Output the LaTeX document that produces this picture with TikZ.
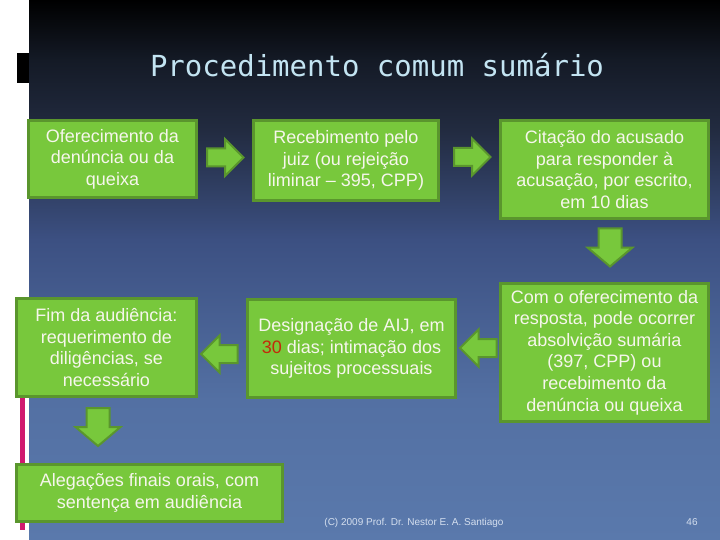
\documentclass[tikz,border=0pt]{standalone}
\usepackage{fontspec}
\setmainfont{Liberation Sans}
\newfontfamily\titlefont{DejaVu Sans Mono}
\definecolor{bgA}{HTML}{5A79AC}
\definecolor{bgB}{HTML}{5370A3}
\definecolor{bgC}{HTML}{3C5082}
\definecolor{bgD}{HTML}{222B40}
\definecolor{bgE}{HTML}{141A26}
\definecolor{boxfill}{HTML}{78C83C}
\definecolor{boxline}{HTML}{5A962D}
\definecolor{boxtext}{HTML}{F6F6EC}
\definecolor{redthirty}{HTML}{C22A0A}
\definecolor{titlecol}{HTML}{C3E4F2}
\definecolor{footcol}{HTML}{D4DEEE}
\definecolor{magbar}{HTML}{D0196F}
\pgfdeclareverticalshading{bgshade}{100bp}{color(0bp)=(bgA); color(25bp)=(bgA); color(38bp)=(bgB); color(52.8bp)=(bgC); color(62.96bp)=(bgD); color(69.44bp)=(bgE); color(75bp)=(black); color(100bp)=(black)}
\begin{document}
\begin{tikzpicture}[x=1pt,y=-1pt,
  stepbox/.style={draw=boxline, line width=3pt, fill=boxfill, text=boxtext, inner sep=0pt,
    align=center, font=\fontsize{18}{21.6}\selectfont},
  arrowstyle/.style={draw=boxline, line width=2pt, fill=boxfill, line join=miter},
  pics/harrow/.style={code={\draw[arrowstyle] (-18,-9) -- (0,-9) -- (0,-18.5) -- (18.5,0) -- (0,18.5) -- (0,9) -- (-18,9) -- cycle;}},
  pics/varrow/.style={code={\draw[arrowstyle] (-11.5,-19) -- (11.5,-19) -- (11.5,0) -- (22.5,0) -- (0,19) -- (-22.5,0) -- (-11.5,0) -- cycle;}},
  foot/.style={text=footcol, font=\fontsize{10}{11}\selectfont, inner sep=0pt}
]
\useasboundingbox (0,0) rectangle (720,540);
\fill[white] (0,0) rectangle (720,540);
\shade[shading=bgshade] (29,0) rectangle (720,540);
\fill[black] (17,53) rectangle (29,83);
\fill[magbar] (20,300) rectangle (25,530);

\node[text=titlecol, font=\titlefont\fontsize{29}{32}\selectfont, inner sep=0pt] (title) at (377,65) {Procedimento comum sumário};

\node[stepbox, minimum width=168pt, minimum height=77pt] (b1) at (112.5,159) {Oferecimento da\\denúncia ou da\\queixa};
\node[stepbox, minimum width=185pt, minimum height=80pt] (b2) at (346,160.5) {Recebimento pelo\\juiz (ou rejeição\\liminar – 395, CPP)};
\node[stepbox, minimum width=208pt, minimum height=98pt] (b3) at (604.5,169.5) {Citação do acusado\\para responder à\\acusação, por escrito,\\em 10 dias};
\node[stepbox, minimum width=208pt, minimum height=138pt] (b4) at (604.5,352.5) {Com o oferecimento da\\resposta, pode ocorrer\\absolvição sumária\\(397, CPP) ou\\recebimento da\\denúncia ou queixa};
\node[stepbox, minimum width=208pt, minimum height=98pt] (b5) at (351.5,348.5) {Designação de AIJ, em\\{\color{redthirty}30} dias; intimação dos\\sujeitos processuais};
\node[stepbox, minimum width=180pt, minimum height=98pt] (b6) at (106.5,347.5) {Fim da audiência:\\requerimento de\\diligências, se\\necessário};
\node[stepbox, minimum width=266pt, minimum height=57pt] (b7) at (149.5,493) {Alegações finais orais, com\\sentença em audiência};

\pic at (225,157.5) {harrow};
\pic at (472,157) {harrow};
\pic[rotate=180] at (478.5,348) {harrow};
\pic[rotate=180] at (219.5,354) {harrow};
\pic at (610,247.5) {varrow};
\pic at (98,427) {varrow};

\node[foot] (credit) at (414,523) {(C) 2009 Prof. Dr. Nestor E. A. Santiago};
\node[foot] (pagenum) at (692,522) {46};
\end{tikzpicture}
\end{document}
